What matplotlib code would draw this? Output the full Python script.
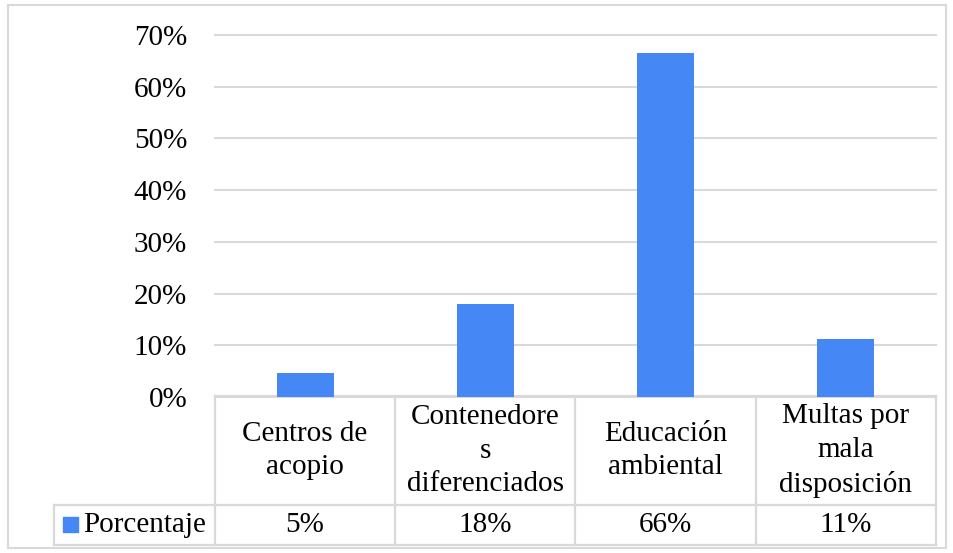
import matplotlib.pyplot as plt
import matplotlib.transforms as mtransforms
from matplotlib.patches import Rectangle

categories = ['Centros de\nacopio', 'Contenedore\ns\ndiferenciados',
              'Educación\nambiental', 'Multas por\nmala\ndisposición']
values = [0.046, 0.18, 0.665, 0.112]
value_labels = ['5%', '18%', '66%', '11%']
series_name = 'Porcentaje'
yticks = [0, 0.1, 0.2, 0.3, 0.4, 0.5, 0.6, 0.7]

W, H = 954, 553
bar_color = '#4487f5'
grid_color = '#d9d9d9'

plt.rcParams['font.family'] = ['Liberation Serif', 'DejaVu Serif']
fs = 21

fig = plt.figure(figsize=(W / 100, H / 100), dpi=100)


def fx(px):
    return px / W


def fy(py):
    return 1 - py / H


# plot area: x 215..936, y 35 (70%) .. 397 (0%)
ax = fig.add_axes([fx(215), fy(397), fx(936) - fx(215), fy(35) - fy(397)])
x = list(range(len(values)))
ax.bar(x, values, width=0.317, color=bar_color, zorder=3)
ax.set_xlim(-0.5, len(values) - 0.5)
ax.set_ylim(0, 0.7)
ax.set_yticks(yticks)
ax.set_yticklabels([f'{int(round(t * 100))}%' for t in yticks], fontsize=fs)
ax.tick_params(axis='y', length=0, pad=20)
ax.set_xticks([])
ax.grid(axis='y', color=grid_color, linewidth=1.5, zorder=0)
for gl in ax.get_ygridlines():
    gl.set_clip_on(False)
for s in ax.spines.values():
    s.set_visible(False)

# data table below the plot, x in data units, y in figure fraction
trans = mtransforms.blended_transform_factory(ax.transData, fig.transFigure)
left_legend = -0.5 + (54 - 215) / 180.0
right_edge = len(values) - 0.5
y_top, y_mid, y_bot = fy(396), fy(505), fy(545)

lkw = dict(color=grid_color, linewidth=1.6, transform=trans, clip_on=False)
ax.plot([-0.5, right_edge], [y_top, y_top], **lkw)
ax.plot([left_legend, right_edge], [y_mid, y_mid], **lkw)
ax.plot([left_legend, right_edge], [y_bot, y_bot], **lkw)
for i in range(len(values) + 1):
    ax.plot([i - 0.5, i - 0.5], [y_top, y_bot], **lkw)
ax.plot([left_legend, left_legend], [y_mid, y_bot], **lkw)

for i, (cat, lab) in enumerate(zip(categories, value_labels)):
    ax.text(i, (y_top + y_mid) / 2, cat, transform=trans, ha='center', va='center',
            fontsize=fs, linespacing=1.38, clip_on=False)
    ax.text(i, (y_mid + y_bot) / 2, lab, transform=trans, ha='center', va='center',
            fontsize=fs, clip_on=False)

# legend key in the table
fig.patches.append(Rectangle((fx(63), fy(532)), fx(78) - fx(63), fy(517) - fy(532),
                             transform=fig.transFigure, color=bar_color))
fig.text(fx(83), (y_mid + y_bot) / 2, series_name, ha='left', va='center', fontsize=fs)

# chart border
fig.patches.append(Rectangle((fx(8), fy(548)), fx(946) - fx(8), fy(5) - fy(548),
                             transform=fig.transFigure, fill=False,
                             edgecolor=grid_color, linewidth=1.5))

fig.savefig('out.png', dpi=100)
